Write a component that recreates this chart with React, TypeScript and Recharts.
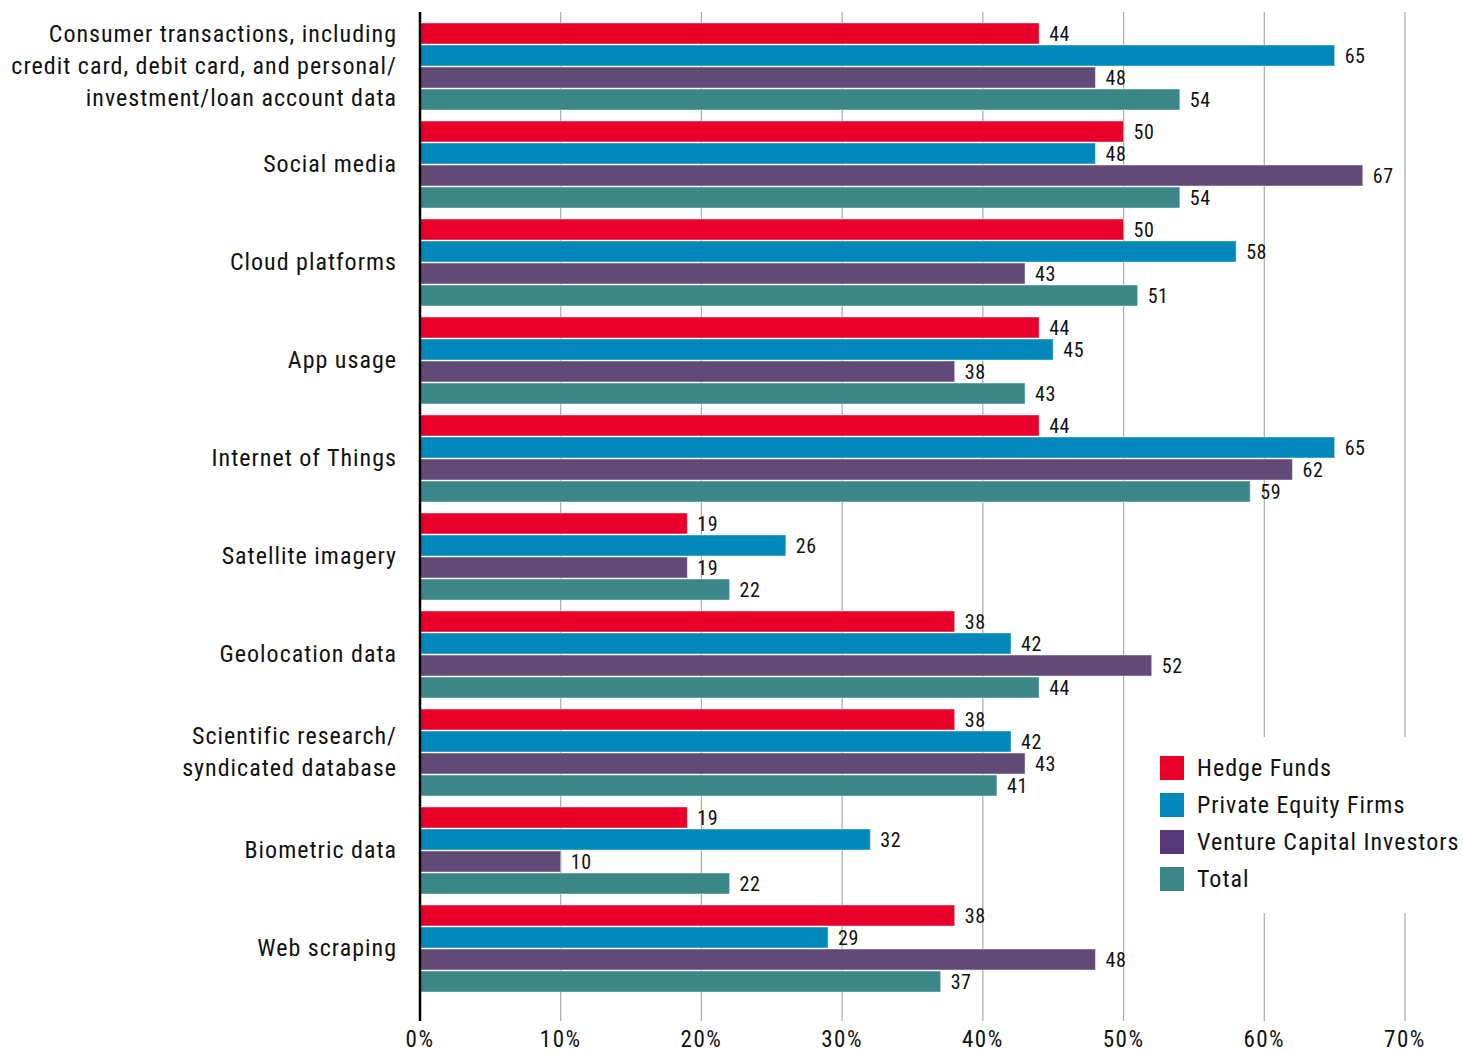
import { Bar, BarChart, CartesianGrid, LabelList, XAxis, YAxis } from "recharts";

const categories = [
  "Consumer transactions, including\ncredit card, debit card, and personal/\ninvestment/loan account data",
  "Social media",
  "Cloud platforms",
  "App usage",
  "Internet of Things",
  "Satellite imagery",
  "Geolocation data",
  "Scientific research/\nsyndicated database",
  "Biometric data",
  "Web scraping",
];

const hedgeFunds = [44, 50, 50, 44, 44, 19, 38, 38, 19, 38];
const privateEquity = [65, 48, 58, 45, 65, 26, 42, 42, 32, 29];
const ventureCapital = [48, 67, 43, 38, 62, 19, 52, 43, 10, 48];
const total = [54, 54, 51, 43, 59, 22, 44, 41, 22, 37];

const xTicks = [0, 10, 20, 30, 40, 50, 60, 70];

const series = [
  { key: "hedge", name: "Hedge Funds", color: "#E8002B", legend: "#E8002B" },
  { key: "pe", name: "Private Equity Firms", color: "#0088BB", legend: "#0088BB" },
  { key: "vc", name: "Venture Capital Investors", color: "#624A78", legend: "#56377A" },
  { key: "total", name: "Total", color: "#3A8689", legend: "#3A8689" },
];

const data = categories.map((c, i) => ({
  category: c,
  hedge: hedgeFunds[i],
  pe: privateEquity[i],
  vc: ventureCapital[i],
  total: total[i],
}));

const FONT = "'Roboto Condensed', 'Liberation Sans Narrow', 'DejaVu Sans Condensed', Roboto, sans-serif";

function CategoryTick(props: any) {
  const { x, y, payload } = props;
  const lines = String(payload.value).split("\n");
  const lh = 32;
  const start = -((lines.length - 1) * lh) / 2;
  return (
    <text x={x} y={y} textAnchor="end" fontFamily={FONT} fontSize={24} letterSpacing={1} fill="#111">
      {lines.map((l, i) => (
        <tspan key={i} x={x - 15} dy={i === 0 ? start + 8 : lh}>
          {l}
        </tspan>
      ))}
    </text>
  );
}

export default function App() {
  return (
    <div style={{ position: "absolute", left: 0, top: 0, width: 1463, height: 1052, background: "#fff" }}>
      <BarChart
        width={1463}
        height={1052}
        data={data}
        layout="vertical"
        margin={{ top: 12, right: 58, bottom: 0, left: 0 }}
        barSize={21}
        barGap={1}
      >
        <CartesianGrid horizontal={false} stroke="#a8a8a8" strokeWidth={1.2} />
        <XAxis
          type="number"
          domain={[0, 70]}
          ticks={xTicks}
          tickFormatter={(v) => `${v}%`}
          axisLine={false}
          tickLine={false}
          height={31}
          tick={{ fontFamily: FONT, fontSize: 23, fill: "#111", dy: 2, letterSpacing: 1.5 }}
          interval={0}
        />
        <YAxis
          type="category"
          dataKey="category"
          width={420}
          padding={{ top: 5, bottom: 24 }}
          axisLine={{ stroke: "#000", strokeWidth: 2.5 }}
          tickLine={false}
          tick={<CategoryTick />}
          interval={0}
        />
        {series.map((s) => (
          <Bar
            key={s.key}
            dataKey={s.key}
            name={s.name}
            fill={s.color}
            stroke="#ffffff"
            strokeOpacity={0.45}
            strokeWidth={1}
            isAnimationActive={false}
          >
            <LabelList
              dataKey={s.key}
              position="right"
              offset={10}
              style={{ fontFamily: FONT, fontSize: 20, fill: "#111", letterSpacing: 0.6 }}
            />
          </Bar>
        ))}
      </BarChart>
      <div
        style={{
          position: "absolute",
          left: 1140,
          top: 737,
          width: 323,
          height: 176,
          background: "#fff",
          fontFamily: FONT,
          fontSize: 24,
          letterSpacing: 1,
          color: "#111",
        }}
      >
        {series.map((s, i) => (
          <div
            key={s.key}
            style={{ position: "absolute", left: 20, top: 19 + i * 37, height: 24, display: "flex", alignItems: "center", whiteSpace: "nowrap" }}
          >
            <span style={{ display: "inline-block", width: 24, height: 24, background: s.legend, marginRight: 13 }} />
            <span>{s.name}</span>
          </div>
        ))}
      </div>
    </div>
  );
}
